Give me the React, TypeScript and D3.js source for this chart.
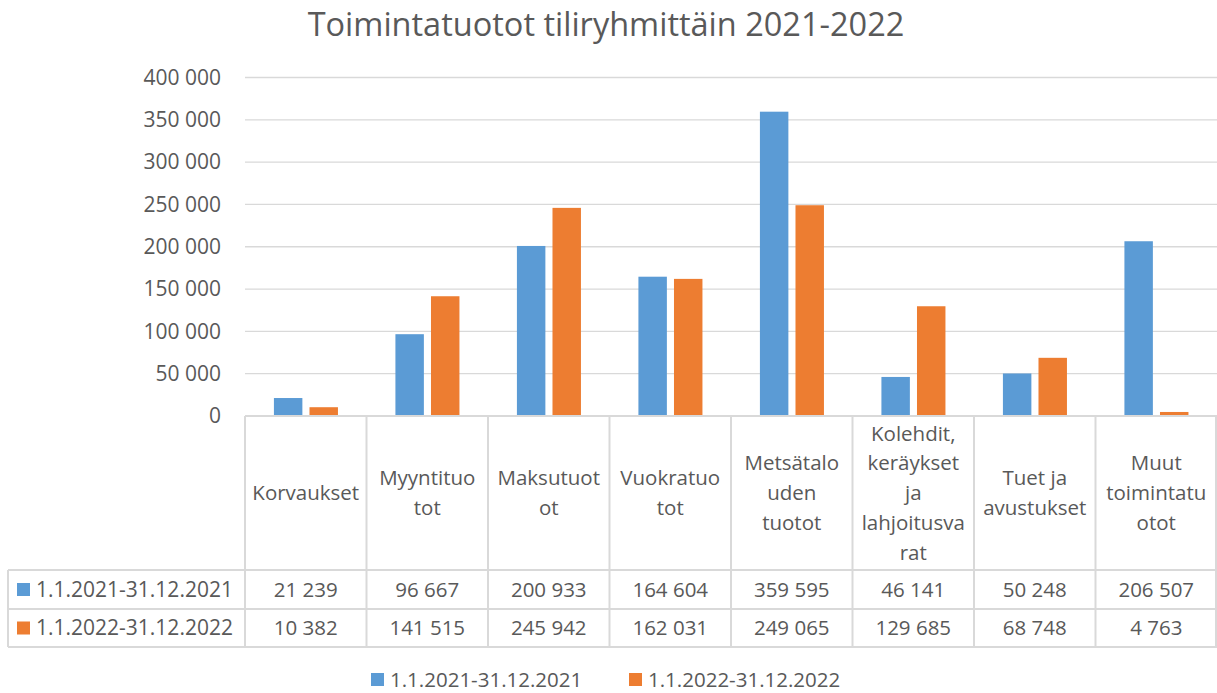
import { useEffect, useRef } from 'react';
import * as d3 from 'd3';

const categories = [
  'Korvaukset',
  'Myyntituo\ntot',
  'Maksutuot\not',
  'Vuokratuo\ntot',
  'Metsätalo\nuden\ntuotot',
  'Kolehdit,\nkeräykset\nja\nlahjoitusva\nrat',
  'Tuet ja\navustukset',
  'Muut\ntoimintatu\notot',
];
const seriesNames = ['1.1.2021-31.12.2021', '1.1.2022-31.12.2022'];
const values2021 = [21239, 96667, 200933, 164604, 359595, 46141, 50248, 206507];
const values2022 = [10382, 141515, 245942, 162031, 249065, 129685, 68748, 4763];
const yTicks = [0, 50000, 100000, 150000, 200000, 250000, 300000, 350000, 400000];
const colors = ['#5B9BD5', '#ED7D31'];
const title = 'Toimintatuotot tiliryhmittäin 2021-2022';

const W = 1217;
const H = 693;
const FONT = '"Open Sans", sans-serif';
const TEXT = '#595959';
const LINE = '#d9d9d9';

const fi = d3.formatLocale({ decimal: ',', thousands: '\u00a0', grouping: [3], currency: ['', ''] });
const fmt = fi.format(',d');

export default function App() {
  const svgRef = useRef<SVGSVGElement>(null);

  useEffect(() => {
    document.body.style.margin = '0';
    if (!svgRef.current) return;
    const svg = d3.select(svgRef.current);
    svg.selectAll('*').remove();

    const plot = { left: 245, right: 1217, top: 77.5, bottom: 416 };
    const tableRows = { header: 570, row1: 609, row2: 647 };
    const tableLeft = 8;

    svg.append('rect').attr('width', W).attr('height', H).attr('fill', '#fff');

    // Title
    svg.append('text')
      .attr('x', 606)
      .attr('y', 36)
      .attr('text-anchor', 'middle')
      .style('font-family', FONT)
      .style('font-size', '32.5px')
      .style('fill', TEXT)
      .text(title);

    const x = d3.scaleBand<string>()
      .domain(categories)
      .range([plot.left, plot.right])
      .padding(0);

    const xSub = d3.scaleBand<string>()
      .domain(seriesNames)
      .range([x.bandwidth() * 0.238, x.bandwidth() * 0.765])
      .paddingInner(0.2);

    const y = d3.scaleLinear()
      .domain([0, 400000])
      .range([plot.bottom, plot.top]);

    // Grid lines
    svg.append('g')
      .selectAll('line')
      .data(yTicks.filter(d => d > 0))
      .join('line')
      .attr('x1', plot.left)
      .attr('x2', plot.right)
      .attr('y1', d => y(d))
      .attr('y2', d => y(d))
      .attr('stroke', LINE)
      .attr('stroke-width', 1.3);

    // Y axis labels
    svg.append('g')
      .selectAll('text')
      .data(yTicks)
      .join('text')
      .attr('x', 221)
      .attr('y', d => y(d))
      .attr('dy', '0.35em')
      .attr('text-anchor', 'end')
      .style('font-family', FONT)
      .style('font-size', '21px')
      .style('fill', TEXT)
      .text(d => (d === 0 ? '0' : fmt(d)));

    // Bars
    const allSeries = [values2021, values2022];
    allSeries.forEach((vals, si) => {
      svg.append('g')
        .selectAll('rect')
        .data(vals)
        .join('rect')
        .attr('x', (_, i) => (x(categories[i]) || 0) + (xSub(seriesNames[si]) || 0))
        .attr('y', d => y(d))
        .attr('width', xSub.bandwidth())
        .attr('height', d => y(0) - y(d))
        .attr('fill', colors[si]);
    });

    // Data table
    const table = svg.append('g');
    const stroke = (x1: number, y1: number, x2: number, y2: number) =>
      table.append('line')
        .attr('x1', x1).attr('y1', y1).attr('x2', x2).attr('y2', y2)
        .attr('stroke', LINE).attr('stroke-width', 2);

    // horizontal lines
    stroke(plot.left, plot.bottom, plot.right, plot.bottom);
    stroke(tableLeft, tableRows.header, plot.right, tableRows.header);
    stroke(tableLeft, tableRows.row1, plot.right, tableRows.row1);
    stroke(tableLeft, tableRows.row2, plot.right, tableRows.row2);
    // vertical lines
    categories.forEach(c => stroke(x(c) || 0, plot.bottom, x(c) || 0, tableRows.row2));
    stroke(plot.right - 1, plot.bottom, plot.right - 1, tableRows.row2);
    stroke(tableLeft, tableRows.header, tableLeft, tableRows.row2);

    // header labels
    const lineH = 29.7;
    const headerMid = (plot.bottom + tableRows.header) / 2;
    categories.forEach(c => {
      const lines = c.split('\n');
      const t = table.append('text')
        .attr('text-anchor', 'middle')
        .style('font-family', FONT)
        .style('font-size', '20.5px')
        .style('fill', TEXT);
      lines.forEach((ln, li) => {
        t.append('tspan')
          .attr('x', (x(c) || 0) + x.bandwidth() / 2)
          .attr('y', headerMid + (li - (lines.length - 1) / 2) * lineH)
          .attr('dy', '0.35em')
          .text(ln);
      });
    });

    // series rows
    const rowMids = [(tableRows.header + tableRows.row1) / 2, (tableRows.row1 + tableRows.row2) / 2];
    allSeries.forEach((vals, si) => {
      table.append('rect')
        .attr('x', 17)
        .attr('y', rowMids[si] - 6.5)
        .attr('width', 13)
        .attr('height', 13)
        .attr('fill', colors[si]);
      table.append('text')
        .attr('x', 36)
        .attr('y', rowMids[si])
        .attr('dy', '0.35em')
        .style('font-family', FONT)
        .style('font-size', '21px')
        .style('fill', TEXT)
        .text(seriesNames[si]);
      table.append('g')
        .selectAll('text')
        .data(vals)
        .join('text')
        .attr('x', (_, i) => (x(categories[i]) || 0) + x.bandwidth() / 2)
        .attr('y', rowMids[si])
        .attr('dy', '0.35em')
        .attr('text-anchor', 'middle')
        .style('font-family', FONT)
        .style('font-size', '20.5px')
        .style('fill', TEXT)
        .text(d => fmt(d));
    });

    // Legend
    const legendX = [371, 629];
    const legend = svg.append('g');
    seriesNames.forEach((name, si) => {
      legend.append('rect')
        .attr('x', legendX[si])
        .attr('y', 673)
        .attr('width', 13)
        .attr('height', 13)
        .attr('fill', colors[si]);
      legend.append('text')
        .attr('x', legendX[si] + 19)
        .attr('y', 679.5)
        .attr('dy', '0.35em')
        .style('font-family', FONT)
        .style('font-size', '20.5px')
        .style('fill', TEXT)
        .text(name);
    });
  }, []);

  return <svg ref={svgRef} width={W} height={H} style={{ display: 'block' }} />;
}
